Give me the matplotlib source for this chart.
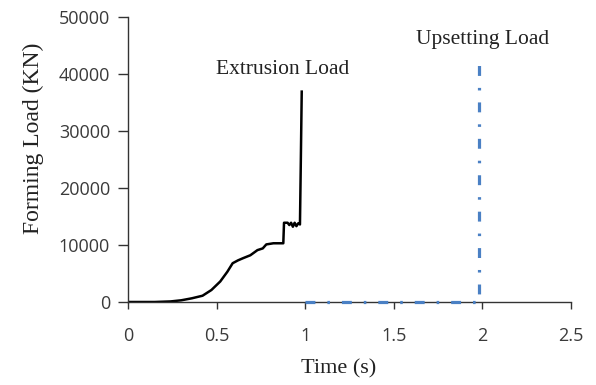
import matplotlib
matplotlib.use("Agg")
import matplotlib.pyplot as plt

# Extrusion load curve (time s, load KN)
ext_time = [0.0, 0.15, 0.24, 0.30, 0.36, 0.42, 0.47, 0.52, 0.56, 0.59, 0.62, 0.65,
            0.69, 0.73, 0.76, 0.78, 0.82, 0.87, 0.876, 0.88, 0.90, 0.91, 0.92,
            0.93, 0.94, 0.95, 0.96, 0.97, 0.975, 0.98]
ext_load = [0, 0, 100, 300, 650, 1100, 2100, 3600, 5300, 6800, 7300, 7700,
            8200, 9100, 9400, 10100, 10300, 10300, 10300, 13900, 13900, 13500, 13900,
            13200, 13900, 13300, 13800, 13600, 25000, 36900]

# Upsetting load curve
ups_time = [1.0, 1.97, 1.98, 1.98]
ups_load = [0, 0, 0, 43300]

x_ticks = [0, 0.5, 1, 1.5, 2, 2.5]
x_labels = ["0", "0.5", "1", "1.5", "2", "2.5"]
y_ticks = [0, 10000, 20000, 30000, 40000, 50000]

fig = plt.figure(figsize=(5.96, 3.85), dpi=100)
ax = fig.add_axes([0.215, 0.2156, 0.743, 0.7404])

ax.plot(ext_time, ext_load, color="black", lw=1.8)
ax.plot(ups_time, ups_load, color="#4a80c4", lw=2.3,
        linestyle=(0, (3.1, 3.75, 0.8, 3.75)), zorder=3, clip_on=False)

ax.set_xlim(0, 2.5)
ax.set_ylim(0, 50000)
ax.set_xticks(x_ticks)
ax.set_xticklabels(x_labels)
ax.set_yticks(y_ticks)

for s in ["top", "right"]:
    ax.spines[s].set_visible(False)
for s in ["left", "bottom"]:
    ax.spines[s].set_color("#333333")
    ax.spines[s].set_linewidth(1.0)

ax.tick_params(axis="x", direction="out", length=5, width=1.0, color="#333333",
               labelsize=13, labelcolor="#3a3a3a", pad=13)
ax.tick_params(axis="y", direction="out", length=7, width=1.0, color="#333333",
               labelsize=13, labelcolor="#3a3a3a", pad=6)
for lbl in ax.get_xticklabels() + ax.get_yticklabels():
    lbl.set_family("Open Sans")

ax.set_xlabel("Time (s)", family="Liberation Serif", fontsize=16, color="#222222")
ax.xaxis.set_label_coords(0.476, -0.2)
ax.set_ylabel("Forming Load (KN)", family="Liberation Serif", fontsize=17, color="#222222")
ax.yaxis.set_label_coords(-0.19, 0.575)

ax.text(0.87, 40700, "Extrusion Load", family="Liberation Serif", fontsize=15.5,
        color="#222222", ha="center", va="center")
ax.text(2.0, 46100, "Upsetting Load", family="Liberation Serif", fontsize=15.5,
        color="#222222", ha="center", va="center")

fig.savefig("out.png", dpi=100)
